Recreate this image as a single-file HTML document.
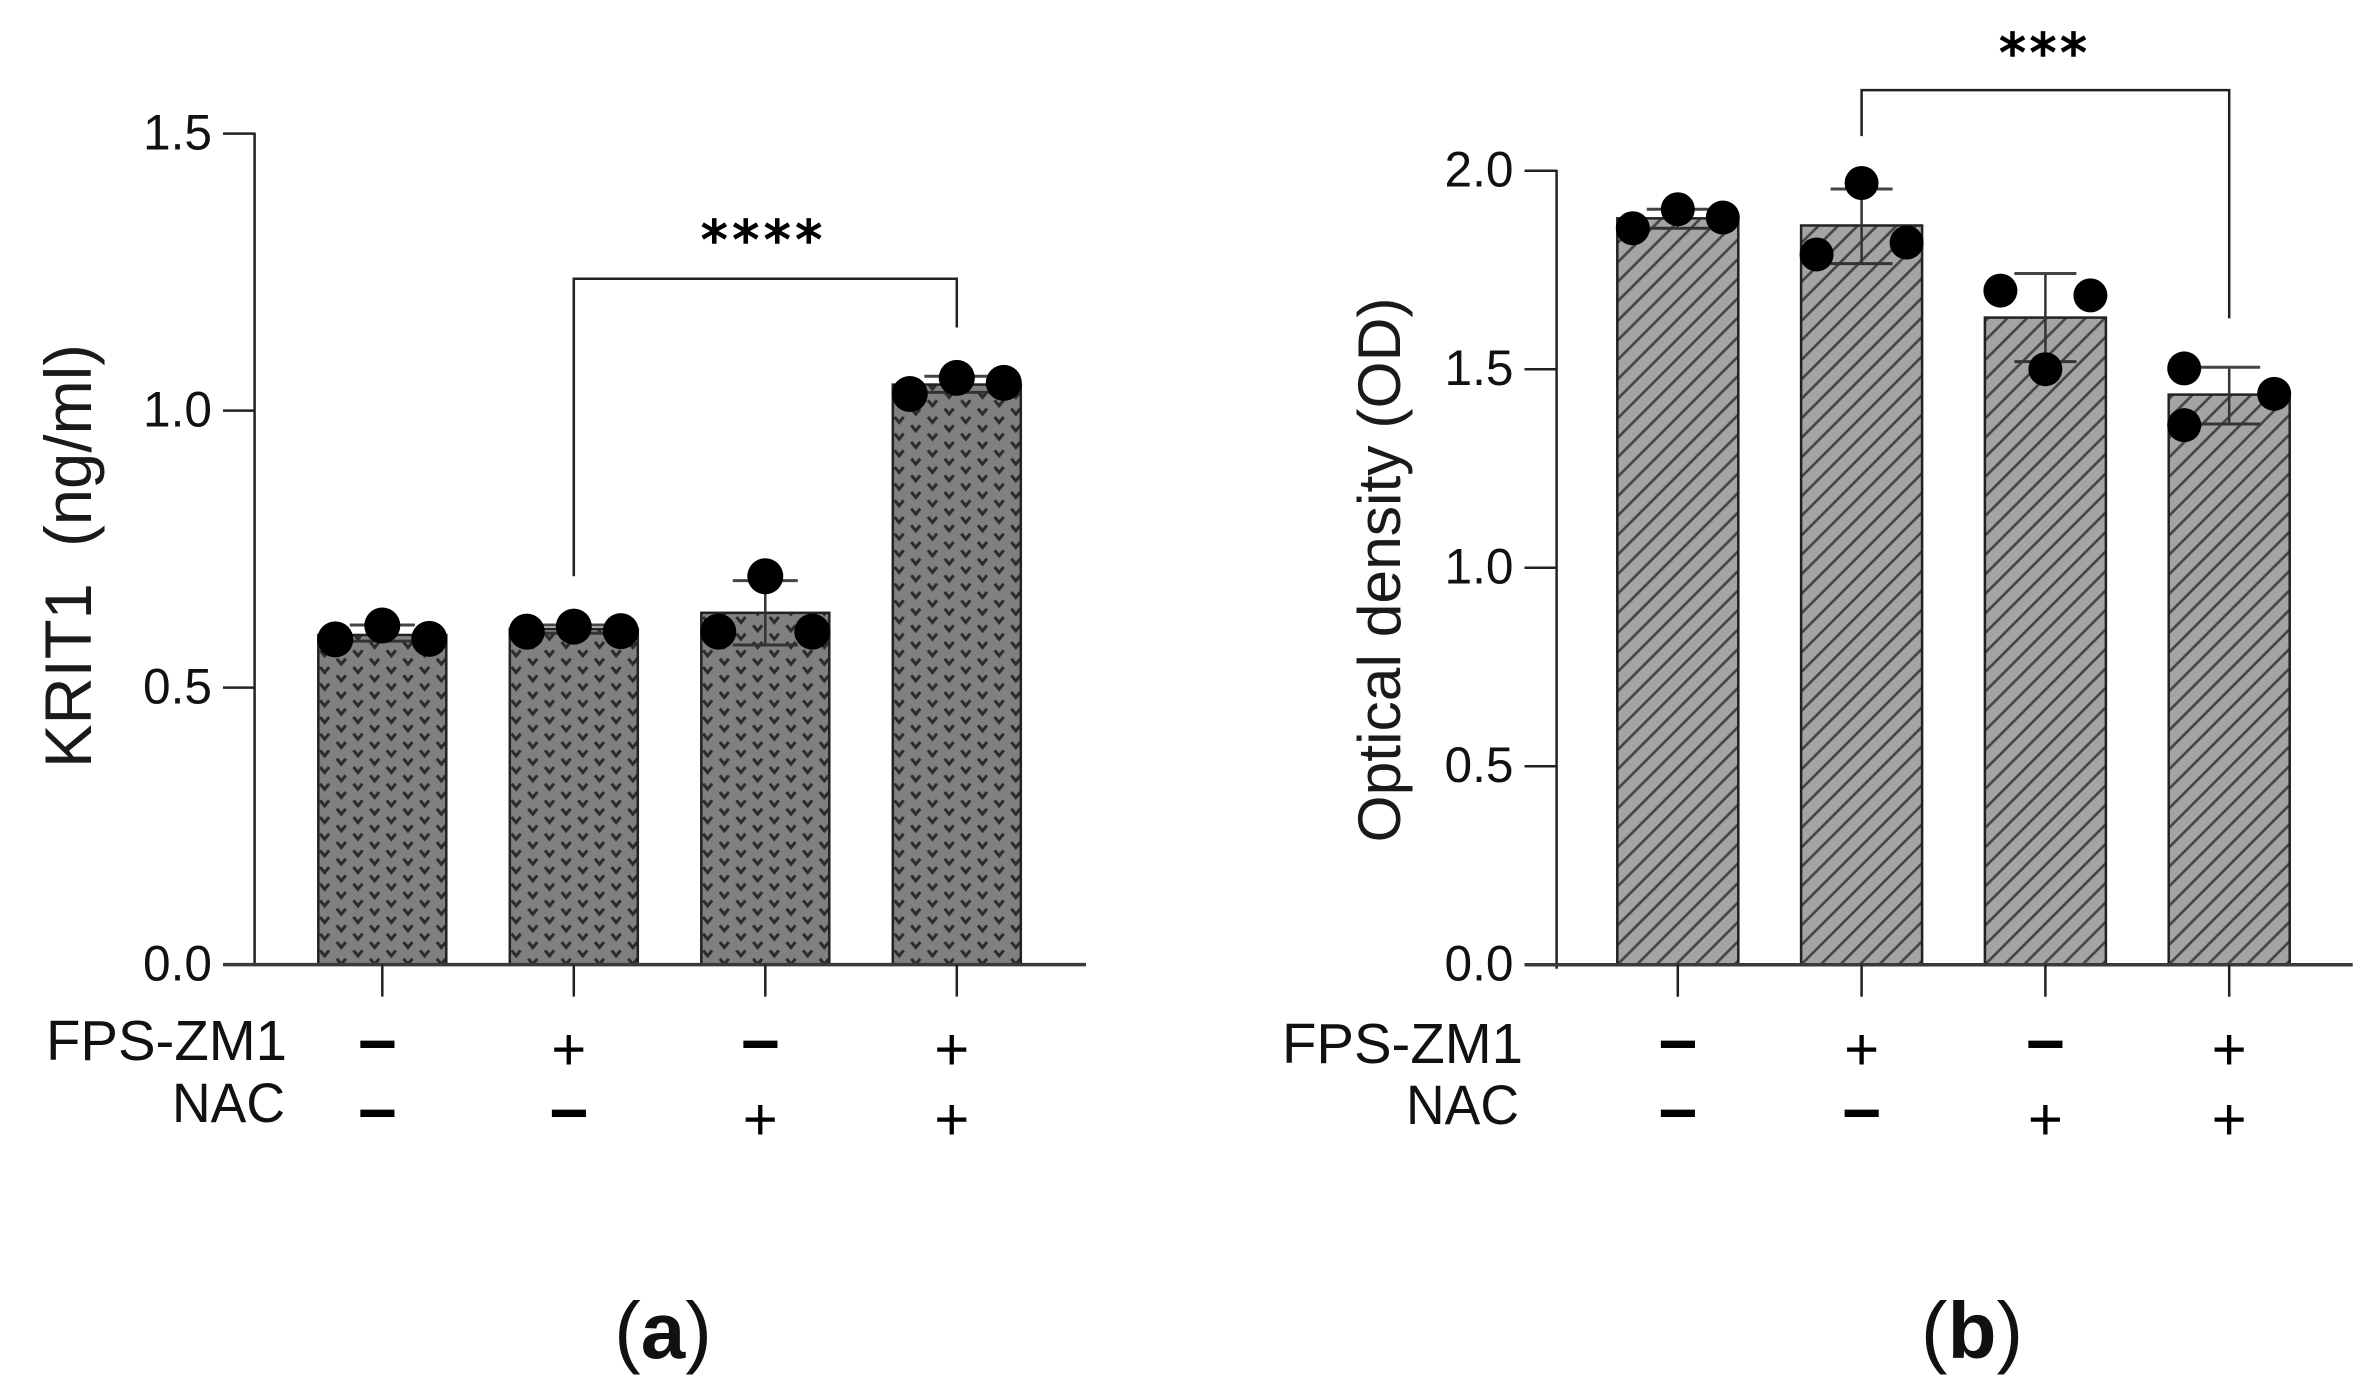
<!DOCTYPE html>
<html lang="en">
<head>
<meta charset="utf-8">
<title>KRIT1 and optical density bar charts</title>
<style>
html,body{margin:0;padding:0;background:#fff;width:2373px;height:1400px;overflow:hidden}
svg{display:block;font-family:"Liberation Sans",Arial,sans-serif}
</style>
</head>
<body>
<svg id="figure" xmlns="http://www.w3.org/2000/svg" width="2373" height="1400" viewBox="0 0 2373 1400">
  <rect x="0" y="0" width="2373" height="1400" fill="#ffffff"/>
  <defs id="defs"></defs>
  <g id="panel-a"></g>
  <g id="panel-b"></g>

  <text transform="translate(91,556) rotate(-90)" text-anchor="middle" font-size="66" textLength="424" lengthAdjust="spacingAndGlyphs" fill="#1a1a1a" xml:space="preserve">KRIT1  (ng/ml)</text>
  <text transform="translate(1400,570) rotate(-90)" text-anchor="middle" font-size="60" textLength="545" lengthAdjust="spacingAndGlyphs" fill="#1a1a1a">Optical density (OD)</text>

  <text x="287" y="1060" text-anchor="end" font-size="57" textLength="241" lengthAdjust="spacingAndGlyphs" fill="#111">FPS-ZM1</text>
  <text x="285" y="1122" text-anchor="end" font-size="56" textLength="113" lengthAdjust="spacingAndGlyphs" fill="#111">NAC</text>
  <text x="1523" y="1063" text-anchor="end" font-size="57" textLength="241" lengthAdjust="spacingAndGlyphs" fill="#111">FPS-ZM1</text>
  <text x="1519" y="1124" text-anchor="end" font-size="56" textLength="113" lengthAdjust="spacingAndGlyphs" fill="#111">NAC</text>

  <text x="764" y="258" text-anchor="middle" font-size="53" letter-spacing="5" style="font-family:'DejaVu Sans',sans-serif" fill="#000" stroke="#000" stroke-width="1.6">****</text>
  <text x="2045" y="71" text-anchor="middle" font-size="53" letter-spacing="4" style="font-family:'DejaVu Sans',sans-serif" fill="#000" stroke="#000" stroke-width="1.6">***</text>

  <text x="663" y="1358" text-anchor="middle" font-size="80" fill="#111">(<tspan font-weight="bold">a</tspan>)</text>
  <text x="1972" y="1358" text-anchor="middle" font-size="80" fill="#111">(<tspan font-weight="bold">b</tspan>)</text>
</svg>

<script>
// ---- Panel (a) data ----
const categoriesA = ['FPS-ZM1 - / NAC -', 'FPS-ZM1 + / NAC -', 'FPS-ZM1 - / NAC +', 'FPS-ZM1 + / NAC +'];
const meansA = [0.595, 0.606, 0.635, 1.047];
const errLowA = [0.584, 0.598, 0.577, 1.033];
const errHighA = [0.613, 0.613, 0.693, 1.062];
const pointsA = [[0.587, 0.612, 0.588], [0.601, 0.610, 0.602], [0.601, 0.701, 0.601], [1.030, 1.059, 1.050]];
const slotsA = [[-1, 0, 1], [-1, 0, 1], [-1, 0, 1], [-1, 0, 1]];
const ticksA = ['0.0', '0.5', '1.0', '1.5'];
const bracketA = [1.238, 0.701, 1.150];
const bracketIndexA = [1, 3];

// ---- Panel (b) data ----
const categoriesB = ['FPS-ZM1 - / NAC -', 'FPS-ZM1 + / NAC -', 'FPS-ZM1 - / NAC +', 'FPS-ZM1 + / NAC +'];
const meansB = [1.880, 1.862, 1.630, 1.436];
const errLowB = [1.855, 1.766, 1.519, 1.362];
const errHighB = [1.903, 1.954, 1.741, 1.505];
const pointsB = [[1.855, 1.903, 1.882], [1.789, 1.969, 1.819], [1.698, 1.500, 1.686], [1.502, 1.359, 1.438]];
const slotsB = [[-1, 0, 1], [-1, 0, 1], [-1, 0, 1], [-1, -1, 1]];
const ticksB = ['0.0', '0.5', '1.0', '1.5', '2.0'];
const bracketB = [2.203, 2.087, 1.628];
const bracketIndexB = [1, 3];

// ---- Treatment rows (shared) ----
const fpsRow = ['\u2212', '+', '\u2212', '+'];
const nacRow = ['\u2212', '\u2212', '+', '+'];

const NS = 'http://www.w3.org/2000/svg';
const defs = document.getElementById('defs');

function mk(parent, tag, attrs) {
  const el = document.createElementNS(NS, tag);
  for (const k in attrs) el.setAttribute(k, attrs[k]);
  parent.appendChild(el);
  return el;
}

function drawPanel(cfg) {
  const g = document.getElementById(cfg.id);
  const y = v => cfg.y0 - v * cfg.yUnit;
  const x = i => cfg.x0 + i * cfg.xStep;

  cfg.means.forEach((m, i) => {
    const left = x(i) - cfg.barW / 2;
    const pid = cfg.id + '-hatch-' + i;
    const pat = mk(defs, 'pattern', cfg.patternAttrs(pid, left));
    cfg.patternDraw(pat);

    const bar = mk(g, 'rect', {x: left, y: y(m), width: cfg.barW, height: cfg.y0 - y(m), fill: 'url(#' + pid + ')', stroke: '#222', 'stroke-width': 2.5});
    
    

    const cap = cfg.capW / 2;
    const stem = mk(g, 'line', {x1: x(i), x2: x(i), y1: y(cfg.errLow[i]), y2: y(cfg.errHigh[i]), stroke: '#333', 'stroke-width': 2.5});
    
    
    const capHigh = mk(g, 'line', {x1: x(i) - cap, x2: x(i) + cap, y1: y(cfg.errHigh[i]), y2: y(cfg.errHigh[i]), stroke: '#444', 'stroke-width': 3});
    
    
    const capLow = mk(g, 'line', {x1: x(i) - cap, x2: x(i) + cap, y1: y(cfg.errLow[i]), y2: y(cfg.errLow[i]), stroke: '#333', 'stroke-width': 3});
    
    

    cfg.points[i].forEach((p, j) => {
      const dot = mk(g, 'circle', {cx: x(i) + cfg.slots[i][j] * cfg.dotOffset, cy: y(p), r: cfg.dotR, fill: '#000'});
      
      
    });
  });

  // Axes
  const yAxis = mk(g, 'line', {x1: cfg.axisX, x2: cfg.axisX, y1: y(cfg.yMax) - 1, y2: cfg.y0 + cfg.axisOver, stroke: '#222', 'stroke-width': 2.5});
  
  
  const xAxis = mk(g, 'line', {x1: cfg.tickLeft, x2: cfg.axisEnd, y1: cfg.y0, y2: cfg.y0, stroke: '#3a3a3a', 'stroke-width': 3.5});
  
  

  cfg.ticks.forEach(t => {
    const v = parseFloat(t);
    if (v > 0) {
      const tick = mk(g, 'line', {x1: cfg.tickLeft, x2: cfg.axisX, y1: y(v), y2: y(v), stroke: '#222', 'stroke-width': 2.5});
      
      
    }
    const lab = mk(g, 'text', {x: cfg.tickLeft - 11, y: y(v) + 16, 'text-anchor': 'end', 'font-size': 50, textLength: 69, lengthAdjust: 'spacingAndGlyphs', fill: '#111'});
    
    
    lab.textContent = t;
  });

  cfg.means.forEach((m, i) => {
    const tick = mk(g, 'line', {x1: x(i), x2: x(i), y1: cfg.y0, y2: cfg.y0 + 32, stroke: '#222', 'stroke-width': 2.5});
    
    
  });

  // Bracket
  const bx1 = x(cfg.bracketIndex[0]);
  const bx2 = x(cfg.bracketIndex[1]);
  const br = mk(g, 'polyline', {
    points: bx1 + ',' + y(cfg.bracket[1]) + ' ' + bx1 + ',' + y(cfg.bracket[0]) + ' ' + bx2 + ',' + y(cfg.bracket[0]) + ' ' + bx2 + ',' + y(cfg.bracket[2]),
    fill: 'none', stroke: '#222', 'stroke-width': 2.5
  });
  
  

  // Treatment +/- rows
  const drawSign = (s, i, rowMinusY, rowPlusY) => {
    const isPlus = s === '+';
    const t = mk(g, 'text', {
      x: x(i) + cfg.signDx,
      y: isPlus ? rowPlusY : rowMinusY,
      'text-anchor': 'middle',
      'font-size': isPlus ? 60 : 68,
      'font-weight': isPlus ? 'normal' : 'bold',
      fill: '#000'
    });
    
    
    t.textContent = s;
  };
  fpsRow.forEach((s, i) => drawSign(s, i, 1067, 1070));
  nacRow.forEach((s, i) => drawSign(s, i, 1136, 1140));
}

function dotPattern(pid, left) {
  return {id: pid, patternUnits: 'userSpaceOnUse', x: left + 23, y: 811.7, width: 33.34, height: 16.67};
}
function dotPatternDraw(p) {
  mk(p, 'rect', {x: 0, y: 0, width: 33.34, height: 16.67, fill: '#808080'});
  [[0, 0], [33.34, 0], [0, 16.67], [33.34, 16.67], [16.67, 8.335]].forEach(c => {
    mk(p, 'polyline', {
      points: (c[0] - 4.5) + ',' + (c[1] - 3) + ' ' + c[0] + ',' + (c[1] + 2.5) + ' ' + (c[0] + 4.5) + ',' + (c[1] - 3),
      fill: 'none', stroke: '#2b2b2b', 'stroke-width': 3
    });
  });
}
function linePattern(pid, left) {
  return {id: pid, patternUnits: 'userSpaceOnUse', x: left, y: 964.7, width: 19.5, height: 19.5};
}
function linePatternDraw(p) {
  mk(p, 'rect', {x: 0, y: 0, width: 19.5, height: 19.5, fill: '#a4a4a6'});
  mk(p, 'line', {x1: -2, y1: 21.5, x2: 21.5, y2: -2, stroke: '#444', 'stroke-width': 2.6});
  mk(p, 'line', {x1: -2, y1: 2, x2: 2, y2: -2, stroke: '#444', 'stroke-width': 2.6});
  mk(p, 'line', {x1: 17.5, y1: 21.5, x2: 21.5, y2: 17.5, stroke: '#444', 'stroke-width': 2.6});
}

drawPanel({
  id: 'panel-a', means: meansA, errLow: errLowA, errHigh: errHighA, points: pointsA, slots: slotsA, ticks: ticksA,
  bracket: bracketA, bracketIndex: bracketIndexA,
  y0: 964.6, yUnit: 554, yMax: 1.5,
  x0: 382.3, xStep: 191.5, barW: 128,
  axisX: 254.6, axisOver: 0, tickLeft: 223, axisEnd: 1086,
  capW: 65, dotR: 18, dotOffset: 47, signDx: -5,
  patternAttrs: dotPattern, patternDraw: dotPatternDraw
});

drawPanel({
  id: 'panel-b', means: meansB, errLow: errLowB, errHigh: errHighB, points: pointsB, slots: slotsB, ticks: ticksB,
  bracket: bracketB, bracketIndex: bracketIndexB,
  y0: 964.7, yUnit: 397, yMax: 2.0,
  x0: 1677.8, xStep: 183.8, barW: 121,
  axisX: 1556.6, axisOver: 4, tickLeft: 1524.5, axisEnd: 2352.7,
  capW: 62, dotR: 17, dotOffset: 45, signDx: 0,
  patternAttrs: linePattern, patternDraw: linePatternDraw
});
</script>
</body>
</html>
